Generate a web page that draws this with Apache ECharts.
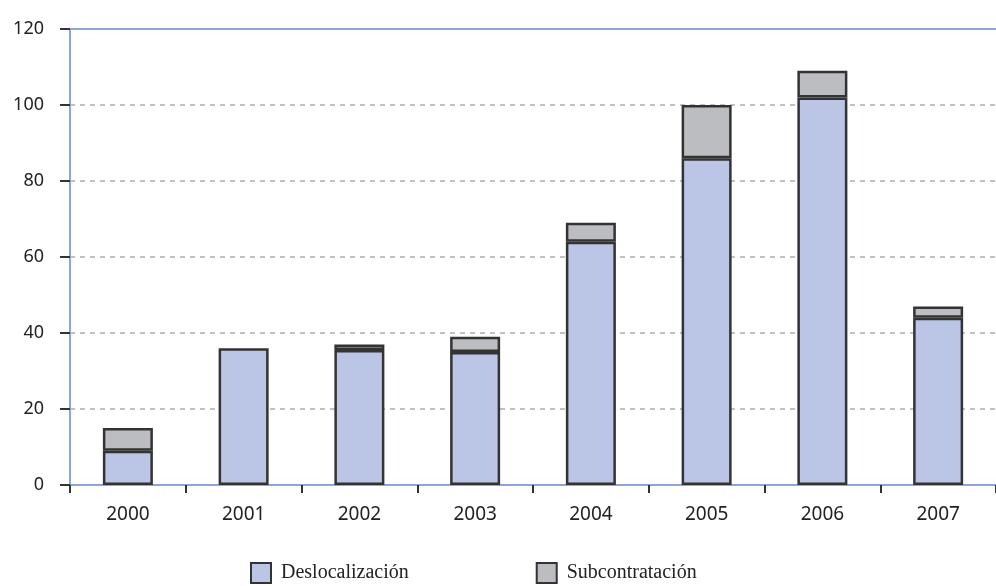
<!DOCTYPE html>
<html>
<head>
<meta charset="utf-8">
<script src="https://cdn.jsdelivr.net/npm/echarts@6/dist/echarts.min.js"></script>
<style>
html,body{margin:0;padding:0;background:#fff;}
#chart{width:996px;height:586px;}
</style>
</head>
<body>
<div id="chart"></div>
<script>
const categories = ['2000','2001','2002','2003','2004','2005','2006','2007'];
const deslocalizacion = [9, 36, 35.5, 35, 64, 86, 102, 44];
const subcontratacion = [6, 0, 1.5, 4, 5, 14, 7, 3];
const yTicks = { min: 0, max: 120, interval: 20 };
const seriesNames = ['Deslocalización', 'Subcontratación'];

const chart = echarts.init(document.getElementById('chart'), null, {renderer: 'canvas'});
const blue = '#8ea5d9';
const dark = '#333333';
const hideZero = arr => arr.map(v => (v === 0 ? null : v));
chart.setOption({
  animation: false,
  backgroundColor: '#fff',
  grid: { left: 70, right: 0, top: 29, bottom: 101, containLabel: false },
  legend: {
    left: 250, top: 562, padding: 0,
    itemWidth: 20, itemHeight: 20, itemGap: 127,
    icon: 'rect',
    textStyle: { fontFamily: 'Liberation Serif', fontSize: 20, color: '#222', padding: [0,0,0,5] },
    data: seriesNames
  },
  xAxis: [{
    type: 'category',
    data: categories,
    axisLine: { lineStyle: { color: blue, width: 2 } },
    axisTick: { show: true, length: 8, lineStyle: { color: dark, width: 2 } },
    axisLabel: { fontFamily: 'Noto Sans', fontSize: 19, color: '#222', margin: 20 }
  }, {
    type: 'category',
    position: 'top',
    data: categories,
    axisLine: { lineStyle: { color: blue, width: 2 } },
    axisTick: { show: false },
    axisLabel: { show: false }
  }],
  yAxis: {
    type: 'value',
    min: yTicks.min, max: yTicks.max, interval: yTicks.interval,
    axisLine: { show: true, lineStyle: { color: blue, width: 2 } },
    axisTick: { show: true, length: 10, lineStyle: { color: dark, width: 2 } },
    axisLabel: { fontFamily: 'Noto Sans', fontSize: 18, color: '#222', margin: 26 },
    splitLine: { show: true, lineStyle: { color: '#c2c2c2', width: 2, type: [5, 5] } }
  },
  series: [{
    name: seriesNames[0],
    type: 'bar',
    stack: 'total',
    barWidth: 50,
    data: deslocalizacion,
    itemStyle: { color: '#bbc5e5', borderColor: dark, borderWidth: 2.5 }
  }, {
    name: seriesNames[1],
    type: 'bar',
    stack: 'total',
    barWidth: 50,
    data: hideZero(subcontratacion),
    itemStyle: { color: '#bcbdc1', borderColor: dark, borderWidth: 2.5 }
  }]
});
</script>
</body>
</html>
